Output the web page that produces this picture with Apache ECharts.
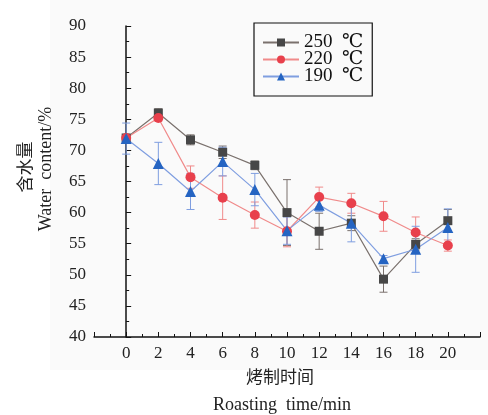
<!DOCTYPE html>
<html>
<head>
<meta charset="utf-8">
<script src="https://cdn.jsdelivr.net/npm/echarts@6/dist/echarts.min.js"></script>
<style>
  html, body { margin: 0; padding: 0; background: #fff; }
  #chart { width: 488px; height: 415px; }
</style>
</head>
<body>
<div id="chart"></div>
<script>
// roasting time (min)
var times = [0, 2, 4, 6, 8, 10, 12, 14, 16, 18, 20];

// water content (%) and standard deviation per temperature
var t250 = [72.0, 76.0, 71.7, 69.7, 67.6, 60.0, 57.0, 58.3, 49.3, 54.9, 58.7];
var e250 = [0.5, 0.7, 0.8, 1.0, 0.7, 5.3, 2.9, 1.2, 2.1, 0.9, 1.8];

var t220 = [72.0, 75.2, 65.7, 62.4, 59.6, 57.0, 62.5, 61.5, 59.4, 56.8, 54.7];
var e220 = [0.5, 0.5, 1.8, 3.5, 2.1, 2.5, 1.6, 1.6, 2.4, 2.5, 0.9];

var t190 = [71.9, 67.9, 63.4, 68.2, 63.7, 57.1, 61.2, 58.3, 52.6, 54.1, 57.6];
var e190 = [2.5, 3.4, 2.9, 2.3, 2.6, 2.2, 1.0, 3.0, 0.5, 3.7, 3.0];

var names = ['250  \u2103', '220  \u2103', '190  \u2103'];

var serif = '"Liberation Serif", "Times New Roman", "DejaVu Serif", serif';
var cjk = '"Noto Sans CJK SC", sans-serif';

function pairs(ys) {
    return times.map(function (t, i) { return [t, ys[i]]; });
}
function errData(ys, es) {
    return times.map(function (t, i) { return [t, ys[i] - es[i], ys[i] + es[i]]; });
}
function errSeries(ys, es, color) {
    return {
        type: 'custom',
        silent: true,
        z: 1,
        data: errData(ys, es),
        renderItem: function (params, api) {
            var lo = api.coord([api.value(0), api.value(1)]);
            var hi = api.coord([api.value(0), api.value(2)]);
            var w = 4;
            var st = { stroke: color, lineWidth: 1 };
            return {
                type: 'group',
                children: [
                    { type: 'line', shape: { x1: lo[0], y1: lo[1], x2: hi[0], y2: hi[1] }, style: st },
                    { type: 'line', shape: { x1: lo[0] - w, y1: lo[1], x2: lo[0] + w, y2: lo[1] }, style: st },
                    { type: 'line', shape: { x1: hi[0] - w, y1: hi[1], x2: hi[0] + w, y2: hi[1] }, style: st }
                ]
            };
        }
    };
}
function lineSeries(name, ys, symbol, size, markColor, lineColor) {
    return {
        name: name,
        type: 'line',
        z: 3,
        data: pairs(ys),
        symbol: symbol,
        symbolSize: size,
        showAllSymbol: true,
        itemStyle: { color: markColor },
        lineStyle: { color: lineColor, width: 1.2 }
    };
}

var myChart = echarts.init(document.getElementById('chart'));

myChart.setOption({
    backgroundColor: '#fff',
    animation: false,
    graphic: [
        { type: 'rect', left: 50, top: 0, z: -10, shape: { width: 438, height: 370 }, style: { fill: '#fafafa' } },
        { type: 'text', x: 280, y: 377, style: { text: '烤制时间', font: '17px ' + cjk, fill: '#222', align: 'center', verticalAlign: 'middle' } },
        { type: 'text', x: 282, y: 405, style: { text: 'Roasting  time/min', font: '18px ' + serif, fill: '#222', align: 'center', verticalAlign: 'middle' } },
        { type: 'text', x: 25, y: 167, rotation: Math.PI / 2, style: { text: '含水量', font: '17px ' + cjk, fill: '#222', align: 'center', verticalAlign: 'middle' } },
        { type: 'text', x: 46, y: 169, rotation: Math.PI / 2, style: { text: 'Water  content/%', font: '18px ' + serif, fill: '#222', align: 'center', verticalAlign: 'middle' } }
    ],
    legend: {
        data: names,
        orient: 'vertical',
        left: 254,
        top: 23,
        itemWidth: 36,
        itemHeight: 10,
        itemGap: -2,
        padding: [10, 9, 10, 8],
        borderColor: '#111',
        borderWidth: 1.2,
        textStyle: { fontFamily: serif, fontSize: 19, color: '#111' }
    },
    grid: { left: 94, right: 8, top: 26, bottom: 78 },
    xAxis: {
        type: 'value',
        min: -2,
        max: 22,
        interval: 2,
        axisLine: { lineStyle: { color: '#111', width: 1.5 } },
        axisTick: { inside: true, length: 5, lineStyle: { color: '#111' } },
        minorTick: { show: true, splitNumber: 2, length: 3, lineStyle: { color: '#111' } },
        splitLine: { show: false },
        axisLabel: {
            color: '#222',
            fontFamily: serif,
            fontSize: 17,
            margin: 8,
            formatter: function (v) { return (v < 0 || v > 20) ? '' : String(v); }
        }
    },
    yAxis: {
        type: 'value',
        min: 40,
        max: 90,
        interval: 5,
        axisLine: { show: true, lineStyle: { color: '#111', width: 1.5 } },
        axisTick: { show: true, inside: true, length: 5, lineStyle: { color: '#111' } },
        minorTick: { show: true, splitNumber: 2, length: 3, lineStyle: { color: '#111' } },
        splitLine: { show: false },
        axisLabel: { color: '#222', fontFamily: serif, fontSize: 17, margin: 8 }
    },
    series: [
        errSeries(t250, e250, '#7a716d'),
        errSeries(t220, e220, '#f08a8a'),
        errSeries(t190, e190, '#7f9ee0'),
        lineSeries(names[0], t250, 'rect', 9, '#474747', '#7a716d'),
        lineSeries(names[1], t220, 'circle', 10, '#e8404c', '#f08a8a'),
        lineSeries(names[2], t190, 'triangle', 11, '#2564c2', '#7f9ee0')
    ]
});
</script>
</body>
</html>
